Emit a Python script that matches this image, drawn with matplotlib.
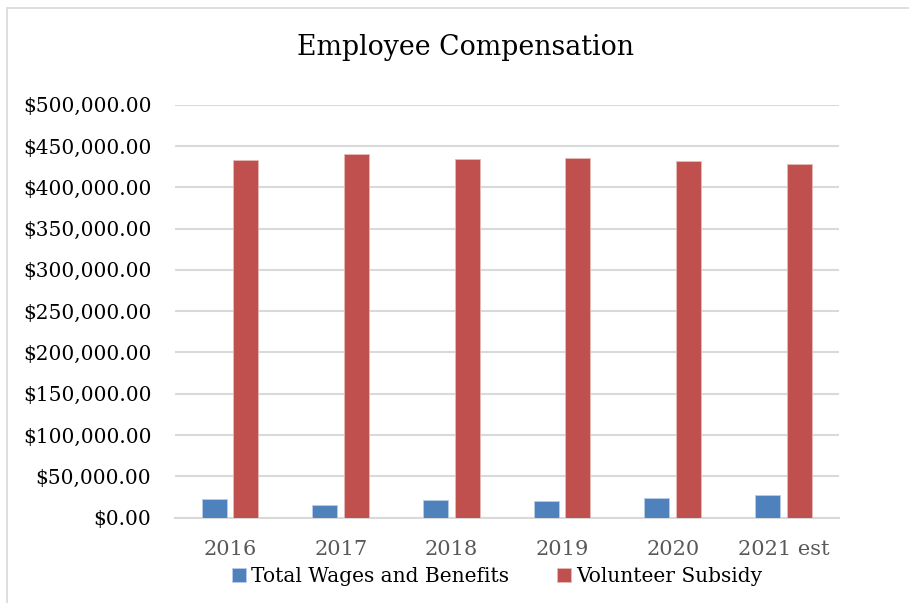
import matplotlib.pyplot as plt
import numpy as np
from matplotlib.patches import Rectangle
from matplotlib.ticker import FuncFormatter

# ================= DATA =================
years = ["2016", "2017", "2018", "2019", "2020", "2021 est"]
wages = [22600, 15700, 21400, 20600, 23800, 27900]
subsidy = [433000, 440000, 434000, 435000, 432000, 428000]

blue = "#4F81BD"
red = "#C0504D"

plt.rcParams['font.family'] = ['DejaVu Serif']

# ================= PLOT =================
fig = plt.figure(figsize=(9.09, 6.03), dpi=100)
ax = fig.add_axes([0.1925, 0.1415, 0.7305, 0.6849])

x = np.arange(len(years))
w = 0.226
ax.bar(x - 0.145, wages, width=w, color=blue, edgecolor="#B9CDE5", linewidth=0.6, label="Total Wages and Benefits", zorder=3)
ax.bar(x + 0.14, subsidy, width=w, color=red, edgecolor="#E6B9B8", linewidth=0.6, label="Volunteer Subsidy", zorder=3)

ax.set_xlim(-0.5, len(years) - 0.5)
ax.set_ylim(0, 500000)
ax.set_yticks(np.arange(0, 500001, 50000))
ax.yaxis.set_major_formatter(FuncFormatter(lambda v, p: f"${v:,.2f}"))
ax.set_xticks(x)
ax.set_xticklabels(years)

ax.grid(axis='y', color='#D9D9D9', linewidth=1.5, zorder=0)
for s in ['top', 'right', 'left']:
    ax.spines[s].set_visible(False)
ax.spines['bottom'].set_color('#D9D9D9')
ax.spines['bottom'].set_linewidth(1.5)
ax.tick_params(axis='both', length=0)
ax.tick_params(axis='y', labelsize=14.5, labelcolor='black', pad=17)
ax.tick_params(axis='x', labelsize=15, labelcolor='#595959', pad=16)

fig.text(0.5116, 0.921, "Employee Compensation", ha='center', va='center', fontsize=19.3)

fig.legend(loc='center', bbox_to_anchor=(0.547, 0.044), ncol=2, frameon=False,
           fontsize=14.5, handlelength=0.7, handleheight=0.7, handletextpad=0.25,
           columnspacing=2.4)

# light border round the chart
fig.patches.append(Rectangle((7 / 909, -0.1), 1.2, 1 - 8 / 603 + 0.1, transform=fig.transFigure,
                             fill=False, edgecolor='#D9D9D9', linewidth=1.2))

fig.savefig("out.png", dpi=100)
